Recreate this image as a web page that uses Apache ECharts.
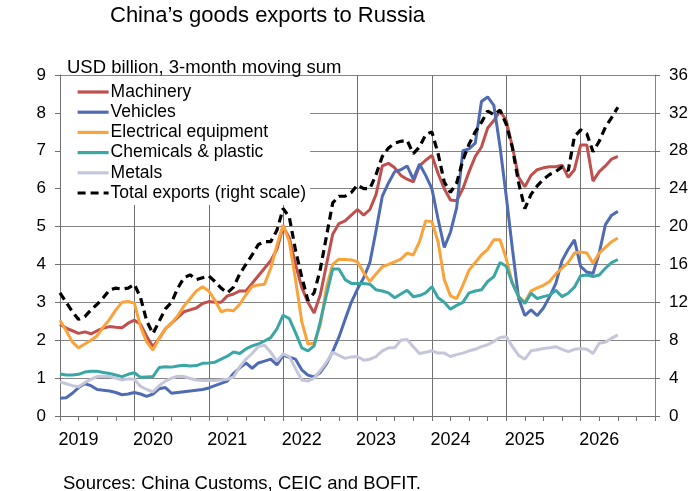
<!DOCTYPE html>
<html>
<head>
<meta charset="utf-8">
<script src="https://cdn.jsdelivr.net/npm/echarts@6/dist/echarts.min.js"></script>
<style>
  html, body { margin: 0; padding: 0; background: #fff; }
  #chart { width: 700px; height: 491px; }
</style>
</head>
<body>
<div id="chart"></div>
<script>
// monthly points, 3-month moving sums, USD billion
const yearLabels = ['2019', '2020', '2021', '2022', '2023', '2024', '2025', '2026'];

const machinery = [
  2.42, 2.32, 2.25, 2.18, 2.22, 2.17, 2.25, 2.32, 2.36, 2.34, 2.33, 2.45,
  2.53, 2.42, 2.10, 1.83, 2.05, 2.30, 2.45, 2.60, 2.75, 2.80, 2.85, 2.97,
  3.02, 3.00, 3.00, 3.17, 3.22, 3.30, 3.30, 3.50, 3.70, 3.90, 4.10, 4.40,
  5.00, 4.70, 4.00, 3.40, 3.00, 2.72, 3.20, 4.00, 4.80, 5.08, 5.15, 5.30,
  5.45, 5.30, 5.45, 5.85, 6.60, 6.67, 6.55, 6.35, 6.25, 6.18, 6.60, 6.75,
  6.88, 6.40, 6.00, 5.70, 5.68, 6.00, 6.45, 6.85, 7.10, 7.60, 7.80, 8.05,
  7.80, 7.10, 6.30, 6.05, 6.35, 6.50, 6.55, 6.58, 6.58, 6.62, 6.30, 6.50,
  7.15, 7.15, 6.20, 6.45, 6.60, 6.78, 6.85
];
const vehicles = [
  0.47, 0.48, 0.60, 0.75, 0.85, 0.80, 0.70, 0.68, 0.66, 0.62, 0.56, 0.58,
  0.62, 0.58, 0.52, 0.58, 0.72, 0.75, 0.60, 0.62, 0.64, 0.66, 0.68, 0.70,
  0.74, 0.80, 0.86, 0.92, 1.12, 1.27, 1.40, 1.26, 1.40, 1.45, 1.50, 1.35,
  1.60, 1.55, 1.50, 1.22, 1.08, 1.03, 1.15, 1.38, 1.70, 2.08, 2.55, 3.00,
  3.35, 3.65, 4.05, 4.90, 5.80, 6.15, 6.45, 6.50, 6.60, 6.25, 6.65, 6.35,
  6.00, 5.20, 4.45, 4.85, 5.50, 7.00, 7.05, 7.20, 8.30, 8.42, 8.20, 7.10,
  5.80, 4.40, 3.10, 2.65, 2.80, 2.65, 2.85, 3.15, 3.50, 4.10, 4.40, 4.65,
  3.95, 3.80, 3.76, 4.30, 5.05, 5.30, 5.40
];
const electrical = [
  2.53, 2.25, 1.95, 1.80, 1.90, 2.00, 2.12, 2.35, 2.55, 2.80, 3.00, 3.02,
  2.98, 2.35, 1.95, 1.74, 2.05, 2.30, 2.45, 2.65, 2.90, 3.10, 3.30, 3.41,
  3.30, 3.05, 2.75, 2.80, 2.78, 2.95, 3.20, 3.42, 3.46, 3.48, 3.90, 4.50,
  5.04, 4.60, 3.60, 2.50, 1.90, 1.92, 2.40, 3.40, 4.00, 4.14, 4.13, 4.12,
  4.07, 3.78, 3.55, 3.75, 3.94, 4.00, 4.07, 4.14, 4.30, 4.25, 4.60, 5.15,
  5.13, 4.60, 3.60, 3.17, 3.10, 3.45, 3.85, 4.05, 4.25, 4.40, 4.65, 4.65,
  4.15, 3.50, 3.15, 3.00, 3.30, 3.38, 3.45, 3.55, 3.75, 3.90, 4.05, 4.30,
  4.33, 4.30, 4.03, 4.30, 4.45, 4.60, 4.70
];
const chemicals = [
  1.11, 1.08, 1.08, 1.10, 1.16, 1.18, 1.18, 1.15, 1.12, 1.08, 1.04, 1.10,
  1.14, 1.02, 1.03, 1.04, 1.28, 1.30, 1.29, 1.32, 1.34, 1.32, 1.33, 1.39,
  1.40, 1.42, 1.50, 1.58, 1.69, 1.65, 1.77, 1.85, 1.90, 1.98, 2.07, 2.30,
  2.66, 2.57, 2.20, 1.80, 1.72, 1.85, 2.50, 3.20, 3.88, 3.88, 3.60, 3.50,
  3.50, 3.50, 3.48, 3.33, 3.30, 3.25, 3.12, 3.22, 3.32, 3.15, 3.18, 3.25,
  3.41, 3.12, 3.00, 2.82, 2.92, 3.00, 3.25, 3.30, 3.33, 3.55, 3.68, 4.05,
  3.95, 3.50, 3.15, 2.97, 3.24, 3.10, 3.15, 3.19, 3.32, 3.15, 3.24, 3.40,
  3.70, 3.72, 3.68, 3.72, 3.90, 4.05, 4.13
];
const metals = [
  0.90, 0.85, 0.80, 0.77, 0.88, 0.97, 1.04, 1.05, 1.04, 1.00, 0.95, 0.98,
  0.97, 0.78, 0.70, 0.64, 0.80, 0.92, 1.00, 1.05, 1.04, 0.99, 0.95, 0.94,
  0.94, 0.94, 0.95, 0.97, 1.03, 1.30, 1.50, 1.65, 1.83, 1.87, 1.68, 1.45,
  1.64, 1.57, 1.25, 0.95, 0.92, 1.00, 1.20, 1.42, 1.68, 1.60, 1.52, 1.56,
  1.57, 1.47, 1.50, 1.57, 1.72, 1.80, 1.80, 2.00, 2.02, 1.83, 1.65, 1.68,
  1.72, 1.66, 1.66, 1.57, 1.62, 1.66, 1.72, 1.76, 1.83, 1.88, 1.97, 2.07,
  2.09, 1.83, 1.60, 1.50, 1.72, 1.75, 1.78, 1.80, 1.83, 1.76, 1.70, 1.76,
  1.78, 1.76, 1.65, 1.92, 1.95, 2.05, 2.14
];
// right scale
const total = [
  13.0, 12.0, 11.0, 10.2, 10.5, 11.2, 11.8, 12.5, 13.3, 13.5, 13.4, 13.5,
  13.9, 12.5, 10.0, 8.7, 10.0, 11.3, 12.0, 13.5, 14.6, 14.9, 14.4, 14.6,
  14.8, 14.2, 13.5, 13.0, 13.6, 15.0, 16.0, 17.0, 18.1, 18.4, 18.4, 19.6,
  21.9, 21.0, 17.5, 14.7, 12.2, 13.0, 15.5, 19.0, 22.5, 23.2, 23.2, 23.6,
  24.4, 24.0, 24.0, 25.5, 27.4, 28.3, 28.8, 29.0, 29.1, 27.7, 28.4, 29.7,
  30.0, 27.7, 24.7, 23.6, 24.6, 27.0, 28.7, 30.0, 31.0, 32.2, 31.8, 32.3,
  30.8, 28.3, 24.6, 21.9, 23.4, 24.3, 25.0, 25.5, 25.8, 26.3, 25.9, 29.5,
  30.2, 29.8, 27.9, 29.0, 30.5, 31.5, 32.6
];

const months = [];
for (let i = 0; i <= 96; i++) months.push(String(i));

const gridColor = '#858585';
const font = 'Liberation Sans, Arial, sans-serif';

const chart = echarts.init(document.getElementById('chart'));

function line(name, data, color, axis, dashed) {
  return {
    name: name,
    type: 'line',
    yAxisIndex: axis,
    data: data,
    symbol: 'none',
    smooth: false,
    lineStyle: { color: color, width: dashed ? 3.2 : 3, type: dashed ? [8, 5] : 'solid' },
    itemStyle: { color: color },
    emphasis: { disabled: true }
  };
}

chart.setOption({
  animation: false,
  textStyle: { fontFamily: font },
  title: [
    { text: 'China’s goods exports to Russia', left: 105, top: 0,
      textStyle: { fontSize: 22, fontWeight: 'normal', color: '#000', fontFamily: font } },
    { text: 'USD billion, 3-month moving sum', left: 62, top: 53,
      textStyle: { fontSize: 18.5, fontWeight: 'normal', color: '#000', fontFamily: font } },
    { text: 'Sources: China Customs, CEIC and BOFIT.', left: 58, top: 469,
      textStyle: { fontSize: 18.5, fontWeight: 'normal', color: '#000', fontFamily: font } }
  ],
  legend: {
    orient: 'vertical',
    left: 61,
    top: 76,
    padding: [6, 4, 2, 15],
    backgroundColor: '#fff',
    itemWidth: 31,
    itemHeight: 12,
    itemGap: 0.2,
    selectedMode: false,
    itemStyle: { opacity: 0 },
    lineStyle: { opacity: 1, width: 3.2 },
    textStyle: { fontSize: 17.5, lineHeight: 20, color: '#000', fontFamily: font, padding: [0, 0, 0, -3] },
    data: ['Machinery', 'Vehicles', 'Electrical equipment', 'Chemicals & plastic', 'Metals', 'Total exports (right scale)']
  },
  grid: { left: 60, right: 45, top: 75, bottom: 75 },
  xAxis: {
    type: 'category',
    data: months,
    boundaryGap: false,
    axisLine: { lineStyle: { color: '#707070', width: 1 } },
    axisTick: { show: true, length: 5, interval: function (i) { return i % 3 === 0; },
      lineStyle: { color: '#707070' } },
    axisLabel: {
      interval: function (i) { return i % 12 === 3; },
      formatter: function (v, i) { return i % 12 === 3 ? yearLabels[(i - 3) / 12] : ''; },
      fontSize: 18, color: '#000', margin: 15, fontFamily: font
    },
    splitLine: { show: true, interval: function (i) { return i % 12 === 0; },
      lineStyle: { color: '#6f6f6f', width: 1 } }
  },
  yAxis: [
    {
      type: 'value', min: 0, max: 9, interval: 1,
      axisLine: { show: true, lineStyle: { color: '#707070' } },
      axisTick: { show: true, length: 5, lineStyle: { color: '#707070' } },
      axisLabel: { fontSize: 17, color: '#000', margin: 14, fontFamily: font },
      splitLine: { show: true, lineStyle: { color: gridColor, width: 1 } }
    },
    {
      type: 'value', min: 0, max: 36, interval: 4, position: 'right',
      axisLine: { show: true, lineStyle: { color: gridColor } },
      axisTick: { show: true, length: 5, lineStyle: { color: '#707070' } },
      axisLabel: { fontSize: 17, color: '#000', margin: 14, fontFamily: font },
      splitLine: { show: false }
    }
  ],
  series: [
    line('Machinery', machinery, '#C0504D', 0),
    line('Vehicles', vehicles, '#4E6BB4', 0),
    line('Electrical equipment', electrical, '#F9A33A', 0),
    line('Chemicals & plastic', chemicals, '#3AA6A5', 0),
    line('Metals', metals, '#C5C6DA', 0),
    line('Total exports (right scale)', total, '#000', 1, true)
  ]
});

window.addEventListener('resize', function () {
  chart.resize();
});
</script>
</body>
</html>
